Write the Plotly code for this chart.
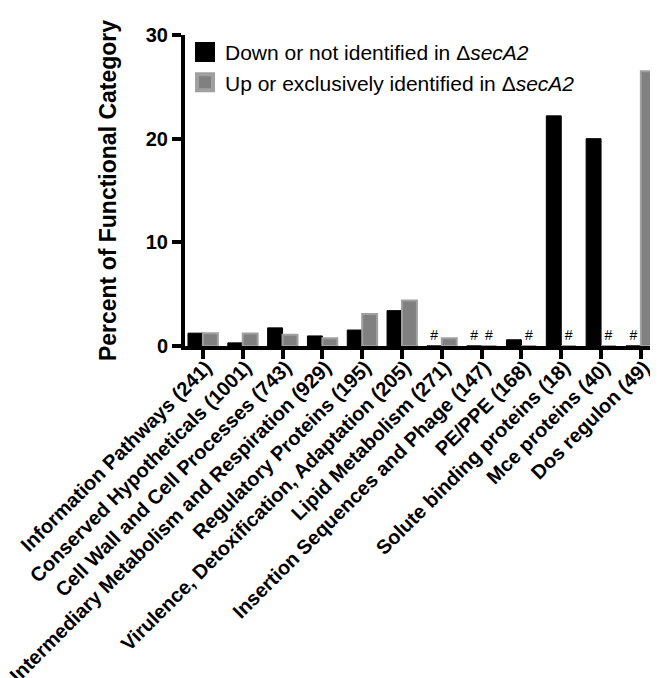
import plotly.graph_objects as go

categories = [
    "Information Pathways (241)",
    "Conserved Hypotheticals (1001)",
    "Cell Wall and Cell Processes (743)",
    "Intermediary Metabolism and Respiration (929)",
    "Regulatory Proteins (195)",
    "Virulence, Detoxification, Adaptation (205)",
    "Lipid Metabolism (271)",
    "Insertion Sequences and Phage (147)",
    "PE/PPE (168)",
    "Solute binding proteins (18)",
    "Mce proteins (40)",
    "Dos regulon (49)",
]
down_values = [1.24, 0.30, 1.75, 0.97, 1.54, 3.41, 0, 0, 0.60, 22.2, 20.0, 0]
up_values = [1.24, 1.20, 1.08, 0.75, 3.08, 4.39, 0.74, 0, 0, 0, 0, 26.5]
y_ticks = [0, 10, 20, 30]

name_down = "Down or not identified in Δ<i>secA2</i>"
name_up = "Up or exclusively identified in Δ<i>secA2</i>"

FONT = "Arial, Liberation Sans, sans-serif"
BLACK = "#000000"
GRAY = "#808080"
GRAY_EDGE = "#a0a0a0"

def hashes(vals):
    return ["#" if v == 0 else "" for v in vals]

fig = go.Figure()
fig.add_trace(go.Bar(
    x=categories, y=down_values, name=name_down, showlegend=False,
    marker=dict(color=BLACK, line=dict(color=BLACK, width=1)),
    text=hashes(down_values), textposition="outside", textangle=0,
    textfont=dict(family=FONT, size=14, color="black"), cliponaxis=False,
))
fig.add_trace(go.Bar(
    x=categories, y=up_values, name=name_up, showlegend=False,
    marker=dict(color=GRAY, line=dict(color=GRAY_EDGE, width=2)),
    text=hashes(up_values), textposition="outside", textangle=0,
    textfont=dict(family=FONT, size=14, color="black"), cliponaxis=False,
))
# legend entries
fig.add_trace(go.Scatter(
    x=[None], y=[None], mode="markers", name=name_down, legendgroup="a",
    marker=dict(symbol="square", size=16, color=BLACK, line=dict(color=BLACK, width=4)),
))
fig.add_trace(go.Scatter(
    x=[None], y=[None], mode="markers", name=name_up, legendgroup="b",
    marker=dict(symbol="square", size=16, color=GRAY, line=dict(color=GRAY_EDGE, width=4)),
))

fig.update_layout(
    width=650, height=670,
    margin=dict(l=177, r=0, t=27, b=332),
    plot_bgcolor="white", paper_bgcolor="white",
    barmode="group", bargap=0.25, bargroupgap=0,
    font=dict(family=FONT, color="black"),
    showlegend=True,
    legend=dict(
        x=0.0, y=1.01, xanchor="left", yanchor="top",
        font=dict(family=FONT, size=21, color="black"),
        bgcolor="rgba(0,0,0,0)", tracegroupgap=0, itemsizing="trace",
    ),
    xaxis=dict(
        type="category", range=[-0.45, 11.43], automargin=False,
        showline=True, linecolor="black", linewidth=4,
        ticks="outside", ticklen=9, tickwidth=4, tickcolor="black",
        tickangle=-45, showgrid=False, zeroline=False,
        ticklabelshift=3, ticklabelstandoff=-11,
        tickfont=dict(family=FONT, size=20, color="black", weight="bold"),
    ),
    yaxis=dict(
        range=[0, 30], tickvals=y_ticks, automargin=False,
        showline=True, linecolor="black", linewidth=4,
        ticks="outside", ticklen=9, tickwidth=4, tickcolor="black",
        showgrid=False, zeroline=False,
        tickfont=dict(family=FONT, size=20, color="black", weight="bold"),
        title=dict(text="Percent of Functional Category", standoff=24,
                   font=dict(family=FONT, size=23, color="black", weight="bold")),
    ),
)

fig.write_html("out.html")
